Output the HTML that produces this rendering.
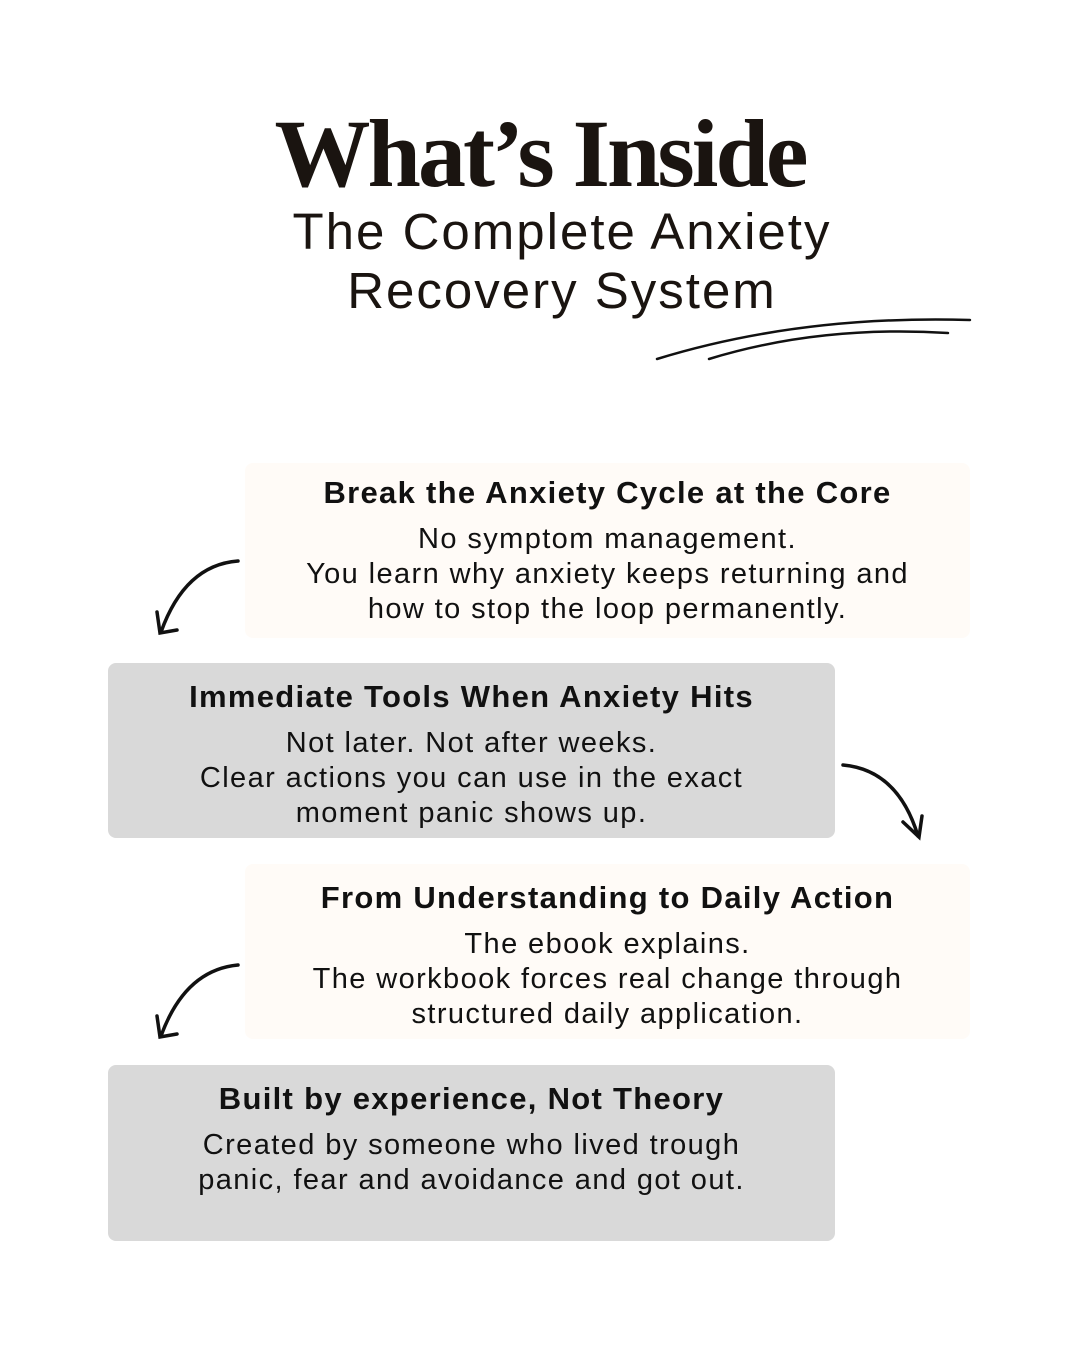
<!DOCTYPE html>
<html><head><meta charset="utf-8"><style>
body{margin:0;width:1080px;height:1350px;background:#fff;position:relative;font-family:"Liberation Sans",sans-serif;color:#111;overflow:hidden}
.t{position:absolute;left:0;width:1080px;text-align:center;font-family:"Liberation Serif",serif;font-weight:bold;font-size:96px;top:98px;letter-spacing:-3px;color:#1a1410}
.s{position:absolute;left:0;width:1124px;text-align:center;font-size:51px;letter-spacing:2px;line-height:59px;top:202px;color:#1a1410}
.b{position:absolute;border-radius:8px;text-align:center}
.b h3{margin:0;font-size:31px;letter-spacing:1.3px;font-weight:bold;line-height:36px;margin-top:12px}
.b p{margin:11px 0 0;font-size:29px;letter-spacing:1.4px;line-height:35px}
.c{background:#fffbf7}.g{background:#d9d9d9}
</style></head><body>
<div class="t">What’s Inside</div>
<div class="s">The Complete Anxiety<br>Recovery System</div>
<svg width="1080" height="1350" style="position:absolute;left:0;top:0" fill="none" stroke="#111" stroke-linecap="round">
<path d="M657 359 Q800 315 970 320" stroke-width="2.5"/>
<path d="M709 359 Q820 325 948 333" stroke-width="2.5"/>
<g stroke-width="3.5">
<path d="M238 561 Q185 565 161 632"/><path d="M157 612 L160 633 L177 630"/>
<path d="M238 965 Q185 970 161 1036"/><path d="M157 1016 L160 1037 L177 1034"/>
<path d="M843 765 Q898 770 918 836"/><path d="M903 822 L919 837 L922 816"/>
</g></svg>
<div class="b c" style="left:245px;top:463px;width:725px;height:175px"><h3>Break the Anxiety Cycle at the Core</h3><p>No symptom management.<br>You learn why anxiety keeps returning and<br>how to stop the loop permanently.</p></div>
<div class="b g" style="left:108px;top:663px;width:727px;height:175px"><h3 style="margin-top:16px">Immediate Tools When Anxiety Hits</h3><p>Not later. Not after weeks.<br>Clear actions you can use in the exact<br>moment panic shows up.</p></div>
<div class="b c" style="left:245px;top:864px;width:725px;height:175px"><h3 style="margin-top:16px">From Understanding to Daily Action</h3><p>The ebook explains.<br>The workbook forces real change through<br>structured daily application.</p></div>
<div class="b g" style="left:108px;top:1065px;width:727px;height:176px"><h3 style="margin-top:16px">Built by experience, Not Theory</h3><p>Created by someone who lived trough<br>panic, fear and avoidance and got out.</p></div>
</body></html>
